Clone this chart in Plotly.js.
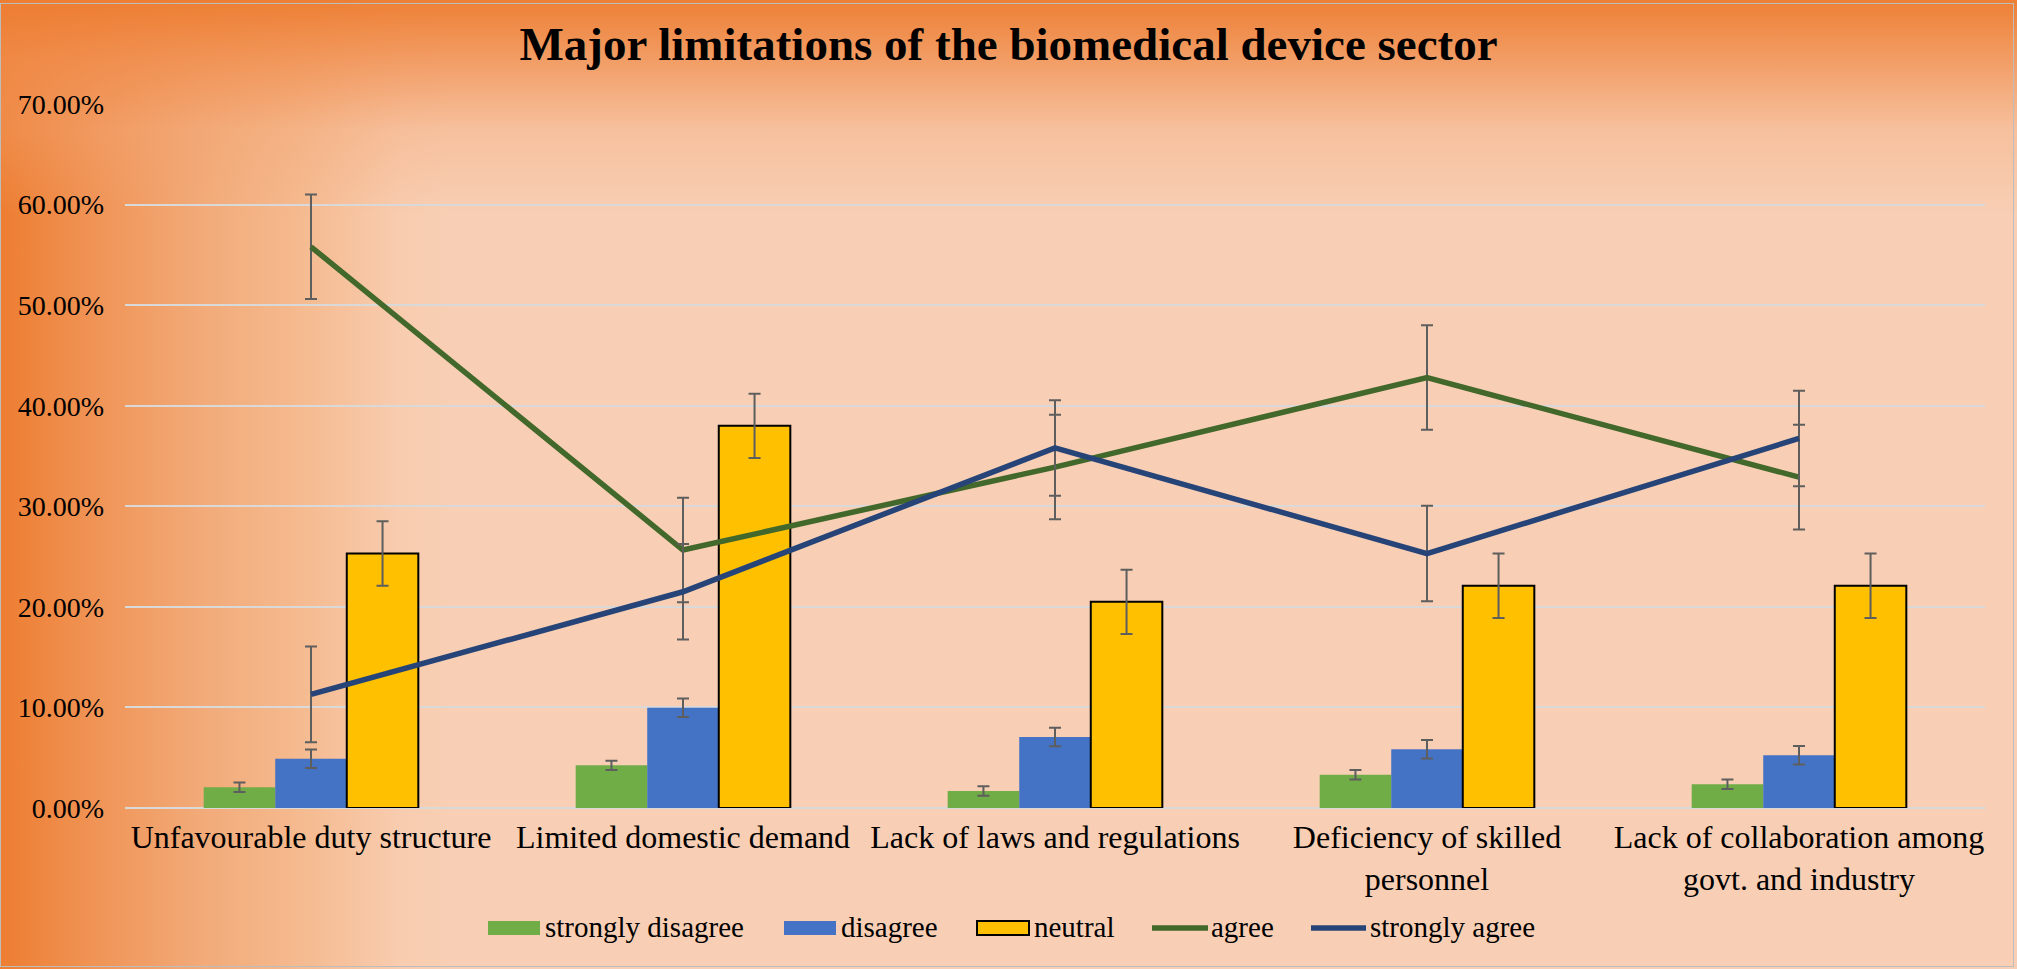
<!DOCTYPE html>
<html>
<head>
<meta charset="utf-8">
<script src="https://cdn.plot.ly/plotly-3.0.1.min.js"></script>
<style>
  html, body { margin: 0; padding: 0; }
  #wrap {
    position: relative; width: 2017px; height: 969px; overflow: hidden;
    background:
      linear-gradient(to bottom, rgba(237,125,49,0.97) 0px, rgba(240,140,75,0.75) 60px, rgba(243,165,115,0.35) 130px, rgba(248,206,180,0) 215px),
      linear-gradient(to right, #ED7D31 0px, #F09558 100px, #F2AA78 200px, #F5BA8F 300px, #F8CCAF 400px, #F8CFB4 450px, #F8CFB4 100%);
  }
  #frame {
    position: absolute; left: 0px; top: 3px; width: 2012px; height: 962px;
    border: 1px solid #BDBDBD; pointer-events: none; z-index: 5;
  }
  #chart { position: absolute; left: 0; top: 0; width: 2017px; height: 969px; }
</style>
</head>
<body>
<div id="wrap">
  <div id="chart"></div>
  <div id="frame"></div>
</div>
<script>
// ---- Data (fractions; displayed as percentages) ----
const categories = [
  'Unfavourable duty structure',
  'Limited domestic demand',
  'Lack of laws and regulations',
  'Deficiency of skilled<br>personnel',
  'Lack of collaboration among<br>govt. and industry'
];
const stronglyDisagree = [0.0206, 0.0424, 0.0169, 0.0331, 0.0236];
const disagree         = [0.0490, 0.0997, 0.0706, 0.0583, 0.0524];
const neutral          = [0.2530, 0.3800, 0.2050, 0.2210, 0.2210];
const agree            = [0.5580, 0.2565, 0.3390, 0.4280, 0.3290];
const stronglyAgree    = [0.1130, 0.2150, 0.3580, 0.2530, 0.3675];

const stronglyDisagreeErr = [0.0047, 0.0047, 0.0047, 0.0047, 0.0047];
const disagreeErr         = [0.0092, 0.0092, 0.0092, 0.0092, 0.0092];
const neutralErr          = [0.0320, 0.0320, 0.0320, 0.0320, 0.0320];
const agreeErr            = [0.0520, 0.0520, 0.0520, 0.0520, 0.0520];
const stronglyAgreeErr    = [0.0475, 0.0475, 0.0475, 0.0475, 0.0475];

const seriesNames = ['strongly disagree', 'disagree', 'neutral', 'agree', 'strongly agree'];

// ---- Styles ----
const FONT = 'Liberation Serif, Times New Roman, serif';
const COLORS = ['#70AD47', '#4472C4', '#FFC000', '#43682B', '#264478'];
const errStyle = (arr) => ({ type: 'data', array: arr, visible: true, color: '#5E5E5E', thickness: 2, width: 6 });

const traces = [
  { type: 'bar', name: seriesNames[0], x: categories, y: stronglyDisagree,
    marker: { color: COLORS[0], line: { width: 0 } }, error_y: errStyle(stronglyDisagreeErr) },
  { type: 'bar', name: seriesNames[1], x: categories, y: disagree,
    marker: { color: COLORS[1], line: { width: 0 } }, error_y: errStyle(disagreeErr) },
  { type: 'bar', name: seriesNames[2], x: categories, y: neutral,
    marker: { color: COLORS[2], line: { color: '#000000', width: 2 } }, error_y: errStyle(neutralErr) },
  { type: 'scatter', mode: 'lines', name: seriesNames[3], x: categories, y: agree,
    line: { color: COLORS[3], width: 5.5 }, error_y: errStyle(agreeErr) },
  { type: 'scatter', mode: 'lines', name: seriesNames[4], x: categories, y: stronglyAgree,
    line: { color: COLORS[4], width: 5.5 }, error_y: errStyle(stronglyAgreeErr) }
];

// ---- Legend drawn as shapes + annotations (Excel-style wide swatches) ----
const M = { l: 125, r: 32, t: 104, b: 161 };
const PW = 2017 - M.l - M.r, PH = 969 - M.t - M.b;
const px2x = (px) => (px - M.l) / PW;
const py2y = (py) => (969 - M.b - py) / PH;
const legendLayout = [
  { kind: 'rect', x0: 488,  x1: 540,  tx: 544 },
  { kind: 'rect', x0: 784,  x1: 836,  tx: 840 },
  { kind: 'rect', x0: 977,  x1: 1029, tx: 1033, border: true },
  { kind: 'line', x0: 1152, x1: 1208, tx: 1210 },
  { kind: 'line', x0: 1311, x1: 1366, tx: 1369 }
];
const legendCY = 928;
const shapes = [], annotations = [];
legendLayout.forEach((it, i) => {
  if (it.kind === 'rect') {
    shapes.push({ type: 'rect', xref: 'paper', yref: 'paper',
      x0: px2x(it.x0), x1: px2x(it.x1), y0: py2y(legendCY + 7), y1: py2y(legendCY - 7),
      fillcolor: COLORS[i], line: it.border ? { color: '#000000', width: 2 } : { width: 0 } });
  } else {
    shapes.push({ type: 'line', xref: 'paper', yref: 'paper',
      x0: px2x(it.x0), x1: px2x(it.x1), y0: py2y(legendCY), y1: py2y(legendCY),
      line: { color: COLORS[i], width: 5.5 } });
  }
  annotations.push({ xref: 'paper', yref: 'paper', x: px2x(it.tx), y: py2y(legendCY - 1),
    xanchor: 'left', yanchor: 'middle', showarrow: false, text: seriesNames[i],
    font: { family: FONT, size: 29, color: '#000000' }, borderpad: 0 });
});

const layout = {
  width: 2017, height: 969,
  paper_bgcolor: 'rgba(0,0,0,0)', plot_bgcolor: 'rgba(0,0,0,0)',
  margin: M,
  font: { family: FONT, color: '#000000' },
  title: {
    text: '<b>Major limitations of the biomedical device sector</b>',
    font: { family: FONT, size: 47, color: '#000000' },
    x: 0.5, xref: 'container', xanchor: 'center',
    y: 1 - 44 / 969, yref: 'container', yanchor: 'middle'
  },
  barmode: 'group', bargap: 0.423, bargroupgap: 0,
  xaxis: {
    type: 'category', showgrid: false, showline: false, zeroline: false,
    ticks: '', tickfont: { family: FONT, size: 32, color: '#000000' },
    ticklabelstandoff: 7
  },
  yaxis: {
    range: [0, 0.7], dtick: 0.1, tick0: 0, tickformat: '.2%',
    showgrid: true, gridcolor: '#D9D9D9', gridwidth: 2,
    zeroline: true, zerolinecolor: '#D9D9D9', zerolinewidth: 2,
    showline: false, ticks: '',
    tickfont: { family: FONT, size: 28, color: '#000000' },
    ticklabelstandoff: 20
  },
  shapes: shapes,
  annotations: annotations,
  showlegend: false
};

Plotly.newPlot('chart', traces, layout, { displayModeBar: false, staticPlot: true });
</script>
</body>
</html>
